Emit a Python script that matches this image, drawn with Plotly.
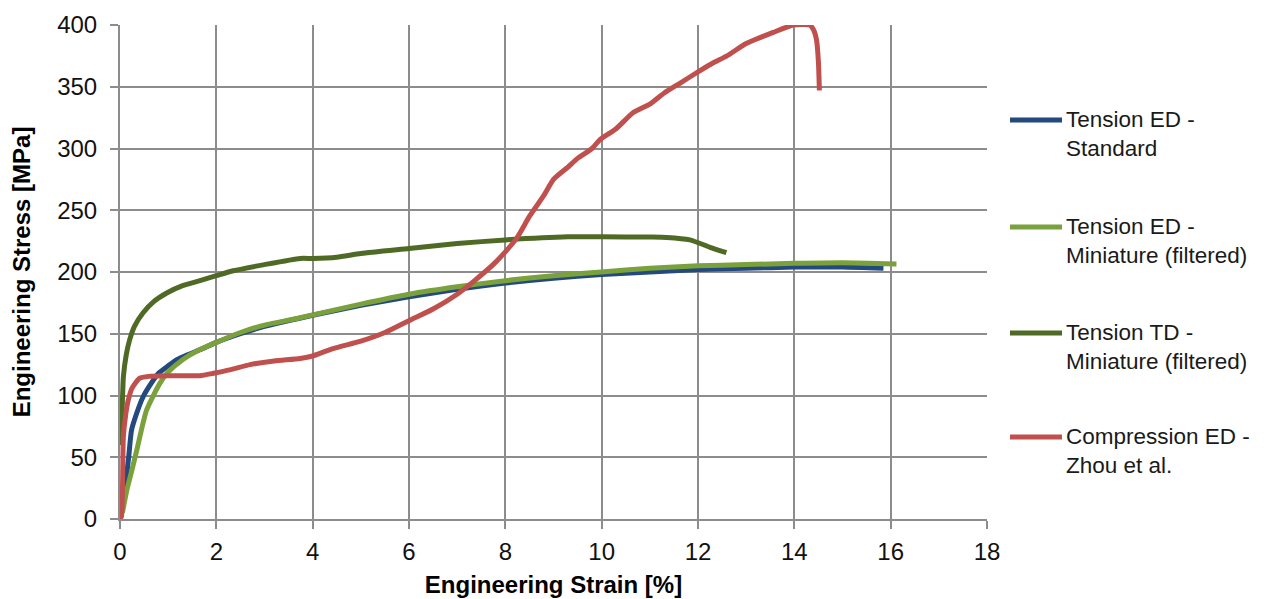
import plotly.graph_objects as go

# Tension ED - Standard
std_x = [0.10, 0.18, 0.24, 0.35, 0.48, 0.65, 0.80, 1.0, 1.18, 1.4, 1.66, 2.0, 2.5, 3.0, 4.0, 5.0, 6.0, 7.0, 8.0, 9.0, 10.0, 11.0, 12.0, 13.0, 14.0, 15.0, 15.85]
std_y = [23, 50, 72, 86, 99, 110, 118, 124, 129, 133, 137, 143, 150, 156, 165, 173, 180, 186, 191, 195, 198, 200, 202, 203, 204, 204, 203]

# Tension ED - Miniature (filtered)
mined_x = [0.05, 0.14, 0.25, 0.35, 0.55, 0.83, 1.0, 1.3, 1.6, 2.0, 2.5, 3.0, 3.74, 5.0, 6.0, 7.0, 8.0, 9.0, 10.0, 11.0, 12.0, 13.0, 14.0, 15.0, 16.12]
mined_y = [5, 23, 40, 56, 88, 110, 119, 129, 136, 143, 151, 157, 163, 174, 182, 188, 193, 197, 200, 203, 205, 206, 207, 207.5, 206.5]

# Tension TD - Miniature (filtered)
td_x = [0.0, 0.03, 0.07, 0.13, 0.2, 0.3, 0.48, 0.7, 0.97, 1.3, 1.66, 2.0, 2.35, 3.0, 3.74, 4.0, 4.5, 5.0, 6.0, 7.0, 8.0, 9.3, 10.0, 11.0, 11.35, 11.83, 12.25, 12.59]
td_y = [60, 72, 115, 133, 145, 156, 167, 176, 183, 189, 193, 197, 201, 206, 211, 211, 212, 215, 219, 223, 226, 228.5, 228.5, 228.3, 228, 226, 220, 215.6]

# Compression ED - Zhou et al.
comp_x = [0.0, 0.03, 0.07, 0.12, 0.17, 0.25, 0.41, 0.6, 0.97, 1.3, 1.66, 1.94, 2.3, 2.7, 3.2, 3.74, 4.0, 4.42, 5.0, 5.5, 6.02, 6.5, 7.0, 7.33, 7.8, 8.23, 8.5, 8.8, 9.0, 9.3, 9.5, 9.8, 9.96, 10.3, 10.65, 11.0, 11.3, 11.63, 12.0, 12.3, 12.6, 13.0, 13.3, 13.56, 13.98, 14.32, 14.4, 14.46, 14.5, 14.52]
comp_y = [0, 2, 67, 85, 96, 106, 114, 115.5, 116, 116, 116, 118, 121, 125, 128, 130, 132, 138, 144, 151, 161, 170, 182, 192, 208, 227, 245, 262, 275, 285, 292, 300, 307, 316, 329, 336, 345, 353, 362, 369, 375, 385, 390, 394, 400, 400, 396, 388, 370, 347]

names = ["Tension ED -<br>Standard", "Tension ED -<br>Miniature (filtered)",
         "Tension TD -<br>Miniature (filtered)", "Compression ED -<br>Zhou et al."]
colors = ["#23497F", "#7AA13C", "#4F6A25", "#C0504D"]
series = [(std_x, std_y), (mined_x, mined_y), (td_x, td_y), (comp_x, comp_y)]

FONT = "Liberation Sans, Arial, sans-serif"

# figure-pixel geometry (page has 8px body margin)
L, T, R, B = 112, 17, 979, 511
W, H = R - L, B - T
def px(fx):
    return (fx - L) / W
def py(fy):
    return (B - fy) / H

fig = go.Figure()
for (xs, ys), name, col in zip(series, names, colors):
    fig.add_trace(go.Scatter(x=xs, y=ys, mode="lines", name=name.replace("<br>", " "),
                             line=dict(color=col, width=5, shape="spline", smoothing=0.6),
                             showlegend=False))

# manual legend (line sample + two-line label)
leg_y = [112, 219, 325, 429]
for name, col, ly in zip(names, colors, leg_y):
    fig.add_shape(type="line", xref="paper", yref="paper",
                  x0=px(1002), x1=px(1054), y0=py(ly), y1=py(ly),
                  line=dict(color=col, width=5))
    fig.add_annotation(xref="paper", yref="paper", x=px(1056), y=py(ly - 15),
                       xanchor="left", yanchor="top", align="left", showarrow=False,
                       text=name, font=dict(family=FONT, size=22.5, color="#1a1a1a"))

fig.update_layout(
    width=1276, height=599,
    paper_bgcolor="white", plot_bgcolor="white",
    margin=dict(l=L, r=1276 - R, t=T, b=599 - B),
    font=dict(family=FONT, size=24, color="#000000"),
    showlegend=False,
    xaxis=dict(range=[0, 18], dtick=2, tick0=0, automargin=False,
               showgrid=True, gridcolor="#8c8c8c", gridwidth=2,
               showline=True, linecolor="#8c8c8c", linewidth=2,
               ticks="outside", ticklen=8, tickcolor="#8c8c8c", tickwidth=2,
               zeroline=False, ticklabelstandoff=2,
               title=dict(text="<b>Engineering Strain [%]</b>", font=dict(size=24), standoff=12),
               tickfont=dict(size=24, color="#111111")),
    yaxis=dict(range=[0, 400], dtick=50, tick0=0, automargin=False,
               showgrid=True, gridcolor="#8c8c8c", gridwidth=2,
               showline=True, linecolor="#8c8c8c", linewidth=2,
               ticks="outside", ticklen=8, tickcolor="#8c8c8c", tickwidth=2,
               zeroline=False, ticklabelstandoff=8,
               title=dict(text="<b>Engineering Stress [MPa]</b>", font=dict(size=24), standoff=20),
               tickfont=dict(size=24, color="#111111")),
)

fig.write_html("out.html")
